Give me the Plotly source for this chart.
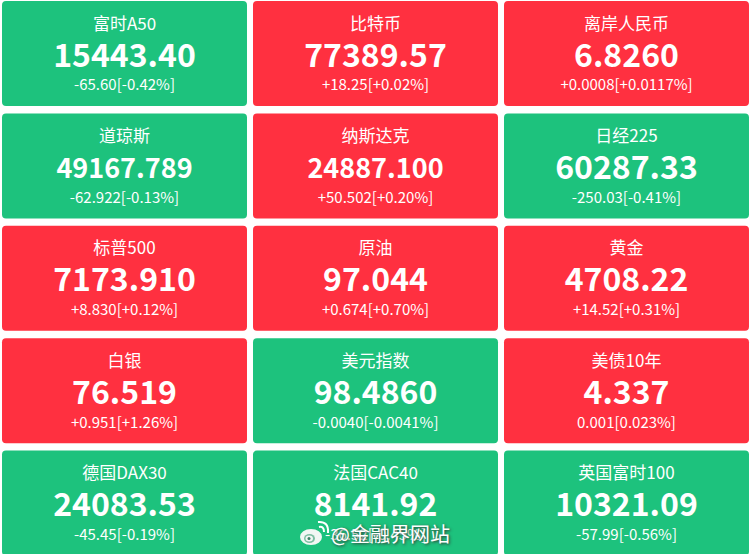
import plotly.graph_objects as go

# rows run top to bottom, three tiles each
names = ["富时A50", "比特币", "离岸人民币",
         "道琼斯", "纳斯达克", "日经225",
         "标普500", "原油", "黄金",
         "白银", "美元指数", "美债10年",
         "德国DAX30", "法国CAC40", "英国富时100"]
prices = ["15443.40", "77389.57", "6.8260",
          "49167.789", "24887.100", "60287.33",
          "7173.910", "97.044", "4708.22",
          "76.519", "98.4860", "4.337",
          "24083.53", "8141.92", "10321.09"]
changes = ["-65.60[-0.42%]", "+18.25[+0.02%]", "+0.0008[+0.0117%]",
           "-62.922[-0.13%]", "+50.502[+0.20%]", "-250.03[-0.41%]",
           "+8.830[+0.12%]", "+0.674[+0.70%]", "+14.52[+0.31%]",
           "+0.951[+1.26%]", "-0.0040[-0.0041%]", "0.001[0.023%]",
           "-45.45[-0.19%]", "-36.52[-0.45%]", "-57.99[-0.56%]"]

GREEN = "#1dc27d"
RED = "#ff3040"
FONT = "Noto Sans CJK SC"

cols = [i % 3 for i in range(len(names))]
rows = [i // 3 for i in range(len(names))]
colors = [GREEN if c.startswith("-") else RED for c in changes]
# the long prices are set smaller so they stay inside the tile
price_sizes = [27 if len(p) >= 9 else 32 for p in prices]
tile_h = 0.934

fig = go.Figure()

fig.add_trace(go.Bar(x=cols, y=[tile_h] * len(cols), base=[r - tile_h / 2 for r in rows], width=0.976,
                     marker=dict(color=colors, cornerradius=4, line=dict(width=0)),
                     hoverinfo="skip", showlegend=False))

fig.add_trace(go.Scatter(x=cols, y=[r - 0.25 for r in rows], mode="text", text=names,
                         textfont=dict(family=FONT, size=17, color="white"),
                         hoverinfo="skip", showlegend=False))
fig.add_trace(go.Scatter(x=cols, y=[r + 0.045 for r in rows], mode="text", text=[f"<b>{p}</b>" for p in prices],
                         textfont=dict(family=FONT, size=price_sizes, color="white"),
                         hoverinfo="skip", showlegend=False))
fig.add_trace(go.Scatter(x=cols, y=[r + 0.295 for r in rows], mode="text", text=changes,
                         textfont=dict(family=FONT, size=15, color="white"),
                         hoverinfo="skip", showlegend=False))


# pixel position -> paper fraction, the watermark sits on the photo not on the data
def px(x):
    return x / 751


def py(y):
    return 1 - y / 554


def ellipse(x0, y0, x1, y1, color):
    fig.add_shape(type="circle", xref="paper", yref="paper", x0=px(x0), y0=py(y0), x1=px(x1), y1=py(y1),
                  fillcolor=color, line=dict(width=0))


def arc(a, b, c, width):
    path = f"M {px(a[0])} {py(a[1])} Q {px(b[0])} {py(b[1])} {px(c[0])} {py(c[1])}"
    fig.add_shape(type="path", xref="paper", yref="paper", path=path,
                  line=dict(color="white", width=width))


# weibo logo
ellipse(300, 529, 322, 545, "#f2f7f4")
ellipse(304, 534, 315, 543, "#7dbfa2")
ellipse(305.5, 535.5, 313, 541.5, "#f2f7f4")
ellipse(307.5, 537, 310.5, 540, "#3c8266")
arc((319, 527), (324, 526), (324, 532), 2)
arc((318, 522), (329, 521), (328, 533), 2)

fig.add_annotation(x=1.058, y=4.268, xref="x", yref="y", text="@金融界网站", showarrow=False,
                   font=dict(family=FONT, size=20, color="white", shadow="1px 1px 3px #333"))

fig.update_xaxes(range=[-0.496, 2.496], visible=False, fixedrange=True)
fig.update_yaxes(range=[4.453, -0.476], visible=False, fixedrange=True)
fig.update_layout(width=751, height=554, margin=dict(l=0, r=0, t=0, b=0),
                  paper_bgcolor="white", plot_bgcolor="white")

fig.write_html("out.html", config=dict(displayModeBar=False),
               post_script="document.body.style.margin = '0';")
